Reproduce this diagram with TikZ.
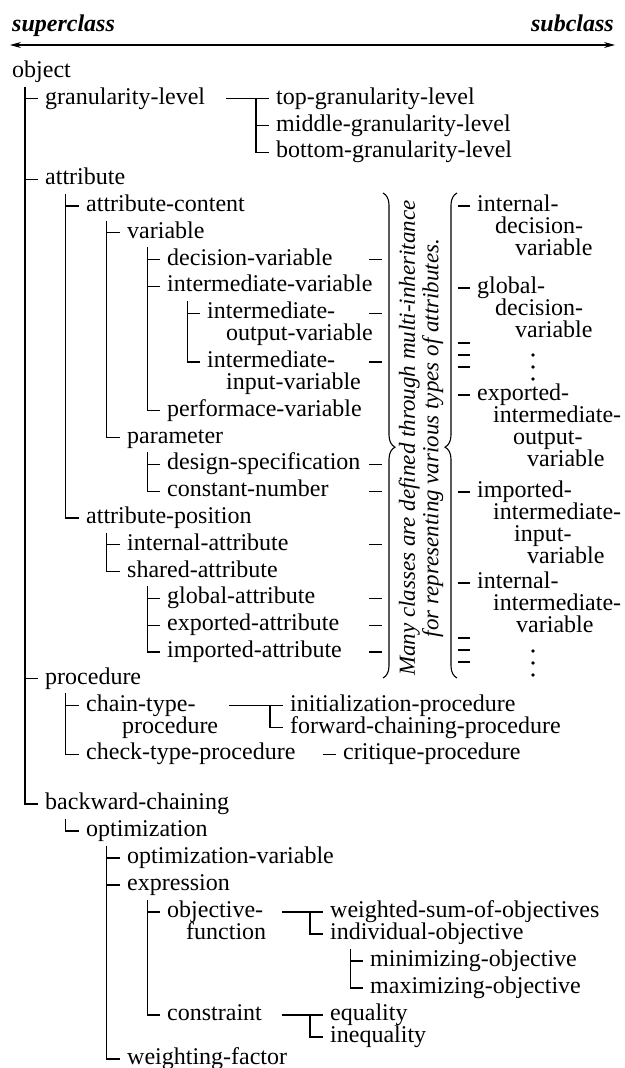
\documentclass[tikz,border=0pt]{standalone}
\usepackage{fontspec}
\setmainfont{Liberation Serif}
\usetikzlibrary{calc,arrows.meta,decorations.pathreplacing}
\newcommand\stk[1]{\vtop{\baselineskip=22pt\lineskiplimit=-30pt\lineskip=0pt #1}}
\newcommand\lnx[2]{\hbox{\hspace*{#1pt}#2}}
\newcommand\mkt[1]{\path ($(#1.base west)+(0,-5.5)$) coordinate (#1T);}
\newcommand\mkv[2]{\path ($(#1.base west)+(#2,9)$) coordinate (#1V);}
\newcommand\tk[2]{\draw[ln] (#1V |- #2T) -- ([xshift=-7pt]#2T);}
\newcommand\crn[2]{\draw[ln] (#1V) |- ([xshift=-7pt]#2T);}
\begin{document}
\begin{tikzpicture}[x=1pt,y=-1pt,
  lbl/.style={anchor=base west, inner sep=0pt, font=\fontsize{24}{22}\selectfont},
  hdr/.style={inner sep=0pt, font=\bfseries\itshape\fontsize{24}{22}\selectfont},
  ln/.style={line width=1.2pt},
  brc/.style={line width=1.1pt, decorate}]
\useasboundingbox (0,0) rectangle (624,1068);
% header
\node[hdr, anchor=base west] (sup) at (12,31) {superclass};
\node[hdr, anchor=base east] (sub) at (614,31) {subclass};
\coordinate (AL) at (10,45);
\coordinate (AR) at (615,45);
\draw[ln, {Stealth[length=11pt,width=6pt]}-{Stealth[length=11pt,width=6pt]}] (AL) -- (AR);
% tree nodes
\node[lbl] (obj) at (12,77.5) {object};
\node[lbl] (gl) at (45,104.3) {granularity-level};
\node[lbl] (tgl) at (276,104.3) {top-granularity-level};
\node[lbl] (mgl) at (276,131.1) {middle-granularity-level};
\node[lbl] (bgl) at (276,157.9) {bottom-granularity-level};
\node[lbl] (attr) at (45,184.7) {attribute};
\node[lbl] (ac) at (86,211.5) {attribute-content};
\node[lbl] (var) at (127,238.3) {variable};
\node[lbl] (dv) at (167,265.1) {decision-variable};
\node[lbl] (iv) at (167,291.9) {intermediate-variable};
\node[lbl] (iov) at (207,318.7) {\stk{\lnx{0}{intermediate-}\lnx{19}{output-variable}}};
\node[lbl] (iiv) at (207,367.5) {\stk{\lnx{0}{intermediate-}\lnx{19}{input-variable}}};
\node[lbl] (pv) at (167,416.3) {performace-variable};
\node[lbl] (par) at (127,443.1) {parameter};
\node[lbl] (ds) at (167,469.9) {design-specification};
\node[lbl] (cn) at (167,496.7) {constant-number};
\node[lbl] (ap) at (86,523.5) {attribute-position};
\node[lbl] (ia) at (127,550.3) {internal-attribute};
\node[lbl] (sa) at (127,577.1) {shared-attribute};
\node[lbl] (ga) at (167,603.9) {global-attribute};
\node[lbl] (ea) at (167,630.7) {exported-attribute};
\node[lbl] (ima) at (167,657.5) {imported-attribute};
\node[lbl] (proc) at (45,684.3) {procedure};
\node[lbl] (ctp) at (86,711.1) {\stk{\lnx{0}{chain-type-}\lnx{36}{procedure}}};
\node[lbl] (ip) at (290,711.1) {initialization-procedure};
\node[lbl] (fcp) at (290,733.1) {forward-chaining-procedure};
\node[lbl] (chk) at (86,759.9) {check-type-procedure};
\node[lbl] (cp) at (343,759.9) {critique-procedure};
\node[lbl] (bc) at (45,809.5) {backward-chaining};
\node[lbl] (opt) at (86,836.5) {optimization};
\node[lbl] (ov) at (127,863.5) {optimization-variable};
\node[lbl] (ex) at (127,890.5) {expression};
\node[lbl] (of) at (167,917.5) {\stk{\lnx{0}{objective-}\lnx{19}{function}}};
\node[lbl] (wso) at (330,917.5) {weighted-sum-of-objectives};
\node[lbl] (io) at (330,939.5) {individual-objective};
\node[lbl] (mn) at (370,966.5) {minimizing-objective};
\node[lbl] (mx) at (370,993.5) {maximizing-objective};
\node[lbl] (con) at (167,1020.5) {constraint};
\node[lbl] (eq) at (330,1020.5) {equality};
\node[lbl] (ineq) at (330,1042.5) {inequality};
\node[lbl] (wf) at (127,1064.5) {weighting-factor};
% right column
\node[lbl] (r1) at (477,211.5) {\stk{\lnx{0}{internal-}\lnx{18}{decision-}\lnx{38}{variable}}};
\node[lbl] (r2) at (477,293.5) {\stk{\lnx{0}{global-}\lnx{18}{decision-}\lnx{38}{variable}}};
\node[lbl] (r3) at (477,400.5) {\stk{\lnx{0}{exported-}\lnx{16}{intermediate-}\lnx{36}{output-}\lnx{50}{variable}}};
\node[lbl] (r4) at (477,497.5) {\stk{\lnx{0}{imported-}\lnx{16}{intermediate-}\lnx{37}{input-}\lnx{50}{variable}}};
\node[lbl] (r5) at (477,588.5) {\stk{\lnx{0}{internal-}\lnx{16}{intermediate-}\lnx{39}{variable}}};
% note between braces
\node[rotate=90, align=center, inner sep=0pt, font=\itshape\fontsize{23}{23.5}\selectfont] (note) at (421,438)
  {Many classes are defined through multi-inheritance\\for representing various types of attributes.};
% helper coordinates
\foreach \n in {obj,gl,tgl,mgl,bgl,attr,ac,var,dv,iv,iov,iiv,pv,par,ds,cn,ap,ia,sa,ga,ea,ima,proc,ctp,ip,fcp,chk,cp,bc,opt,ov,ex,of,wso,io,mn,mx,con,eq,ineq,wf,r1,r2,r3,r4,r5}{\mkt{\n}}
\mkv{obj}{13}
\foreach \n in {attr,ac,var,iv,par,ap,sa,proc,bc,opt,ex,io}{\mkv{\n}{20.5}}
% tree connectors
\tk{obj}{gl} \tk{obj}{attr} \tk{obj}{proc} \crn{obj}{bc}
\tk{attr}{ac} \crn{attr}{ap}
\tk{ac}{var} \crn{ac}{par}
\tk{var}{dv} \tk{var}{iv} \crn{var}{pv}
\tk{iv}{iov} \crn{iv}{iiv}
\tk{par}{ds} \crn{par}{cn}
\tk{ap}{ia} \crn{ap}{sa}
\tk{sa}{ga} \tk{sa}{ea} \crn{sa}{ima}
\tk{proc}{ctp} \crn{proc}{chk}
\crn{bc}{opt}
\tk{opt}{ov} \tk{opt}{ex} \crn{opt}{wf}
\tk{ex}{of} \crn{ex}{con}
\tk{io}{mn} \crn{io}{mx}
% joined groups
\draw[ln] ($(gl.east |- glT)+(21,0)$) -- ([xshift=-7pt]tglT);
\draw[ln] ([xshift=-20pt]tglT) |- ([xshift=-7pt]bglT);
\draw[ln] ([xshift=-20pt]mglT) -- ([xshift=-7pt]mglT);
\draw[ln] ($(ctp.east |- ctpT)+(11,0)$) -- ([xshift=-7pt]ipT);
\draw[ln] ([xshift=-20pt]ipT) |- ([xshift=-7pt]fcpT);
\draw[ln] ($(chk.east |- chkT)+(27,0)$) -- ([xshift=-7pt]cpT);
\draw[ln] ($(of.east |- ofT)+(16,0)$) -- ([xshift=-7pt]wsoT);
\draw[ln] ([xshift=-20pt]wsoT) |- ([xshift=-7pt]ioT);
\draw[ln] ($(con.east |- conT)+(20,0)$) -- ([xshift=-7pt]eqT);
\draw[ln] ([xshift=-20pt]eqT) |- ([xshift=-7pt]ineqT);
% braces
\coordinate (BLt) at (383,193); \coordinate (BLb) at (383,678);
\coordinate (BRt) at (457,193); \coordinate (BRb) at (457,678);
\draw[brc, decoration={brace, amplitude=12pt, aspect=0.524}] (BLt) -- (BLb);
\draw[brc, decoration={brace, amplitude=12pt, aspect=0.476}] (BRb) -- (BRt);
% dashes to the left brace
\coordinate (LB1) at (369,0); \coordinate (LB2) at (382,0);
\foreach \n in {dv,iov,iiv,ds,cn,ia,ga,ea,ima}{\draw[ln] (\n T -| LB1) -- (\n T -| LB2);}
% dashes from the right brace
\foreach \n in {r1,r2,r3,r4,r5}{\draw[ln] ([xshift=-19pt]\n T) -- ([xshift=-7pt]\n T);}
\foreach \d in {55,67,79}{
  \draw[ln] ([xshift=-19pt,yshift=-\d pt]r2T) -- ([xshift=-7pt,yshift=-\d pt]r2T);
  \draw[ln] ([xshift=-19pt,yshift=-\d pt]r5T) -- ([xshift=-7pt,yshift=-\d pt]r5T);}
% vertical ellipses
\foreach \yy in {355,367,379,651,663,675}{\fill (533,\yy) circle (1.8pt);}
\end{tikzpicture}
\end{document}
